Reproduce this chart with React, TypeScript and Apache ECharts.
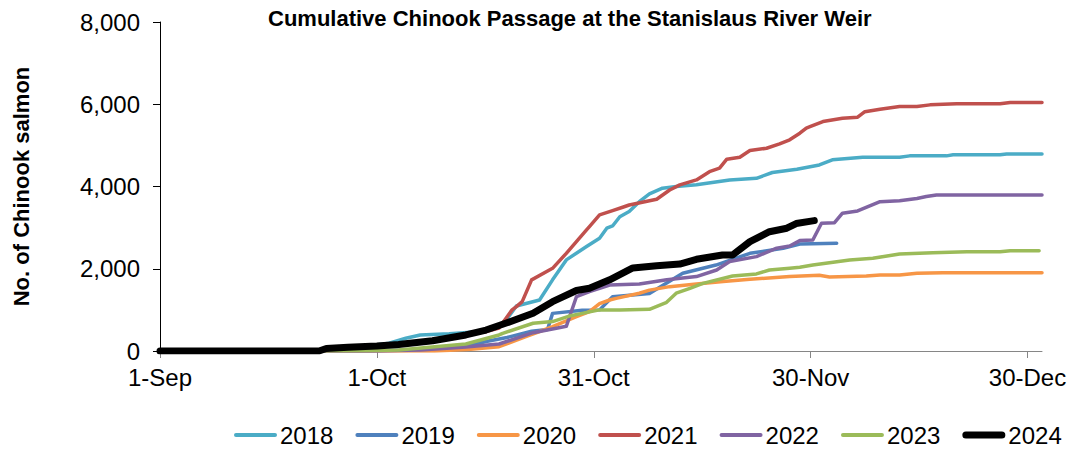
import React, { useEffect, useRef } from "react";
import * as echarts from "echarts";

// x = days since 1-Sep
const tickDays = [0, 30, 60, 90, 120];
const tickLabels = ["1-Sep", "1-Oct", "31-Oct", "30-Nov", "30-Dec"];
const yTicks = [0, 2000, 4000, 6000, 8000];

const years = ["2018", "2019", "2020", "2021", "2022", "2023", "2024"];
const colors = ["#4BACC6", "#4F81BD", "#F79646", "#C0504D", "#8064A2", "#9BBB59", "#000000"];

const d2018 = [
  [0, 0], [21, 0], [25, 50], [29, 130], [31.7, 190], [34, 310], [36, 390], [40, 420], [44, 470],
  [45.1, 530], [46.9, 630], [47.9, 755], [49.3, 1095], [52.5, 1240], [54.3, 1730], [56.2, 2215],
  [59, 2540], [60.8, 2740], [61.8, 2985], [62.6, 3040], [63.6, 3265], [64.9, 3390], [66.3, 3630],
  [67.7, 3820], [69.5, 3960], [71.4, 4000], [74.2, 4040], [78.8, 4160], [82.5, 4200], [84.7, 4340],
  [88.1, 4420], [91.2, 4525], [93, 4650], [97.2, 4710], [102.3, 4710], [103.7, 4745], [108.8, 4745],
  [109.7, 4770], [116.2, 4770], [117.1, 4790], [122, 4790],
];
const d2019 = [
  [0, 0], [28, 0], [35, 25], [42, 100], [45.1, 230], [48, 330], [51.4, 480], [53.6, 520],
  [54.3, 915], [58.4, 990], [60.8, 1000], [62.6, 1320], [67.7, 1400], [72.3, 1890], [76.9, 2090],
  [81.6, 2375], [86.2, 2500], [88.5, 2600], [93.6, 2620],
];
const d2020 = [
  [0, 0], [38, 0], [43, 40], [46.9, 105], [50.6, 350], [54.3, 590], [57.6, 835], [59.4, 960],
  [60.8, 1150], [62.2, 1240], [63.1, 1280], [66.3, 1405], [67.7, 1480], [70.5, 1565], [74.2, 1630],
  [77.9, 1690], [81.6, 1745], [87.1, 1810], [91.2, 1840], [92.6, 1800], [97.7, 1825], [99.6, 1850],
  [102.3, 1850], [104.7, 1890], [108.3, 1905], [122, 1905],
];
const d2021 = [
  [0, 0], [22, 0], [28, 90], [34, 180], [38, 260], [39.6, 330], [42, 400], [45.1, 470], [46.9, 560],
  [48.7, 1000], [49.3, 1080], [50.1, 1200], [51.4, 1730], [54.3, 2010], [56.2, 2375], [59, 2945],
  [59.4, 3025], [60.8, 3310], [62.6, 3415], [64, 3495], [64.9, 3550], [68.7, 3690], [70.5, 3915],
  [71.9, 4040], [74.2, 4160], [76, 4360], [77.4, 4445], [78.4, 4665], [80.2, 4710], [81.6, 4875],
  [83.9, 4930], [85.7, 5035], [87.1, 5135], [88.5, 5295], [89.4, 5420], [89.9, 5455], [91.7, 5580],
  [94.4, 5660], [96.5, 5685], [97.5, 5820], [99.6, 5880], [102.3, 5945], [104.7, 5945], [106.5, 5985],
  [110.2, 6010], [116.2, 6010], [117.6, 6040], [122, 6040],
];
const d2022 = [
  [0, 0], [30, 0], [36, 25], [42.3, 100], [46.9, 170], [51.6, 445], [55, 560], [56.2, 600],
  [57.6, 1320], [59.4, 1445], [62.2, 1605], [66.3, 1630], [70.1, 1730], [74.2, 1810], [77, 1970],
  [78.8, 2175], [82.5, 2295], [85.3, 2500], [87.1, 2555], [88.5, 2685], [90.3, 2700], [91.5, 3105],
  [93.3, 3120], [94.4, 3350], [96.5, 3405], [99.6, 3630], [102.3, 3655], [104.7, 3710], [106, 3755],
  [107.4, 3795], [122, 3795],
];
const d2023 = [
  [0, 0], [20, 0], [30, 15], [33, 25], [42.3, 170], [46.9, 390], [47.4, 430], [51.6, 675],
  [54.3, 715], [56.6, 850], [58.4, 915], [60.8, 1000], [63.6, 1000], [67.7, 1015], [70, 1175],
  [71.4, 1405], [73.3, 1525], [75.1, 1645], [79.2, 1825], [82.5, 1875], [84.3, 1970], [87.1, 2010],
  [88.5, 2035], [90.3, 2090], [95.4, 2215], [98.6, 2255], [102.3, 2360], [106.9, 2390], [111.6, 2415],
  [116.2, 2415], [117.6, 2440], [121.6, 2440],
];
const d2024 = [
  [0, 0], [22, 0], [23, 60], [26, 90], [30, 120], [33, 160], [37.7, 250], [42.3, 390],
  [45.1, 510], [47.9, 680], [51.6, 920], [54.3, 1200], [57.6, 1470], [59.4, 1525], [62.2, 1730],
  [65.4, 2020], [68.7, 2075], [71.9, 2115], [74.2, 2230], [77.8, 2335], [79.2, 2335], [81.6, 2660],
  [84.3, 2900], [86.7, 2985], [88, 3100], [90.5, 3170],
];
const seriesData = [d2018, d2019, d2020, d2021, d2022, d2023, d2024];

const FONT = "'Liberation Sans', Arial, sans-serif";
// legend line icons (43 px long; thin lines for 2018-2023, thick for 2024)
const thinIcon = "path://M2,0 H41 A2,2 0 0 1 41,4 H2 A2,2 0 0 1 2,0 Z";
const thickIcon = "path://M3.5,0 H39.5 A3.5,3.5 0 0 1 39.5,7 H3.5 A3.5,3.5 0 0 1 3.5,0 Z";

export default function App() {
  const ref = useRef<HTMLDivElement>(null);
  useEffect(() => {
    if (!ref.current) return;
    const chart = echarts.init(ref.current, null, { renderer: "svg" });
    chart.setOption({
      animation: false,
      title: {
        text: "Cumulative Chinook Passage at the Stanislaus River Weir",
        left: 268,
        top: 7,
        padding: 0,
        textStyle: { fontFamily: FONT, fontSize: 22, fontWeight: "bold", color: "#000" },
      },
      legend: {
        left: 234,
        top: 423,
        width: 840,
        padding: 0,
        itemWidth: 43,
        itemHeight: 14,
        itemGap: 22,
        data: years.map((y, i) => ({ name: y, icon: i === 6 ? thickIcon : thinIcon })),
        textStyle: { fontFamily: FONT, fontSize: 24, color: "#000", padding: [0, 0, 0, -2] },
      },
      grid: { left: 160, right: 33, top: 22, bottom: 98, containLabel: false },
      xAxis: {
        type: "value",
        min: 0,
        max: 122,
        splitLine: { show: false },
        axisLine: { show: true, lineStyle: { color: "#868686", width: 1 } },
        axisTick: { show: true, length: 7, customValues: tickDays, lineStyle: { color: "#868686" } },
        axisLabel: {
          customValues: tickDays,
          margin: 14,
          fontFamily: FONT,
          fontSize: 24,
          color: "#000",
          formatter: (v: number) => tickLabels[tickDays.indexOf(v)] ?? "",
        },
      },
      yAxis: {
        type: "value",
        min: 0,
        max: 8000,
        interval: 2000,
        name: "No. of Chinook salmon",
        nameLocation: "middle",
        nameGap: 128,
        nameTextStyle: { fontFamily: FONT, fontSize: 22, fontWeight: "bold", color: "#000" },
        splitLine: { show: false },
        axisLine: { show: true, lineStyle: { color: "#000", width: 1 } },
        axisTick: { show: true, length: 7, lineStyle: { color: "#000" } },
        axisLabel: {
          margin: 20,
          fontFamily: FONT,
          fontSize: 24,
          color: "#000",
          formatter: (v: number) => (yTicks.includes(v) ? v.toLocaleString("en-US") : ""),
        },
      },
      series: years.map((y, i) => ({
        name: y,
        type: "line",
        data: seriesData[i],
        symbol: "none",
        showSymbol: false,
        color: colors[i],
        z: 2 + i,
        lineStyle: { color: colors[i], width: i === 6 ? 7 : 3.5, cap: "round", join: "round" },
      })),
    });
    return () => chart.dispose();
  }, []);
  return (
    <div
      ref={ref}
      style={{ position: "fixed", left: 0, top: 0, width: 1075, height: 449, background: "#fff" }}
    />
  );
}
